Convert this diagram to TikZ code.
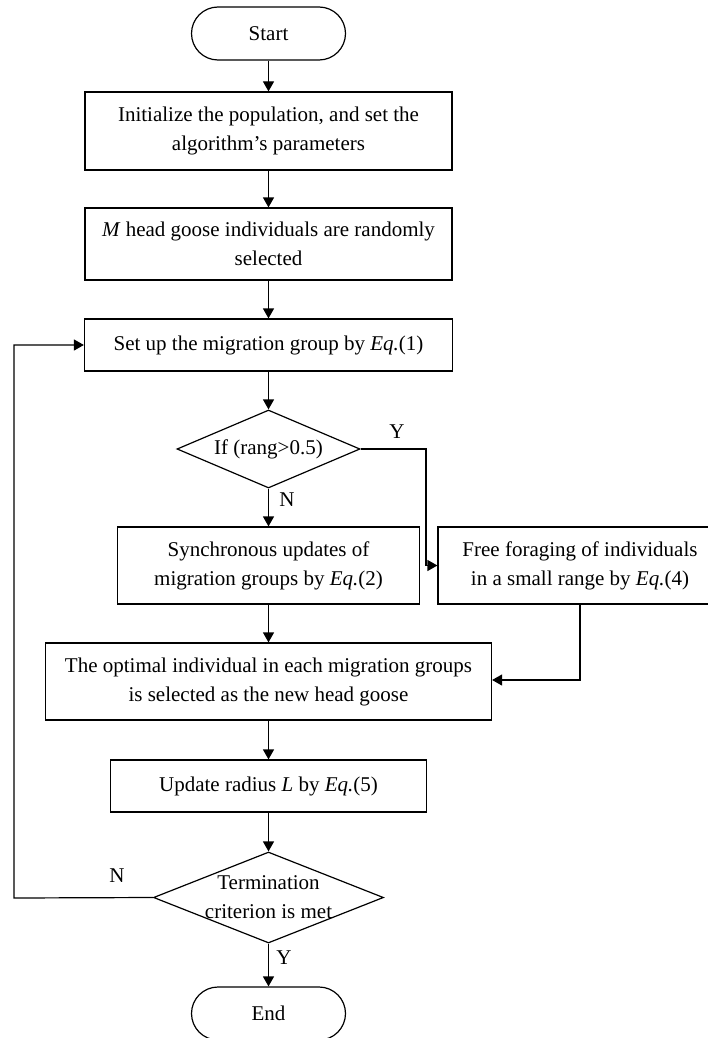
\documentclass[tikz,border=0pt]{standalone}
\usepackage{fontspec}
\setmainfont{Liberation Serif}
\usetikzlibrary{shapes.geometric,arrows.meta}
\begin{document}
\begin{tikzpicture}[x=1pt,y=-1pt,
  font=\fontsize{21}{29}\selectfont,
  box/.style={draw,line width=1.2pt,align=center,inner sep=0pt},
  term/.style={draw,line width=1.2pt,rounded corners=26.5pt,minimum width=154pt,minimum height=53pt,inner sep=0pt},
  dec/.style={draw,line width=1.2pt,diamond,inner sep=0pt},
  flow/.style={line width=1.2pt,-{Triangle[length=10pt,width=11pt]}},
  link/.style={line width=1.2pt},
  lab/.style={inner sep=0pt}]
\useasboundingbox (0,0) rectangle (707,1038);
\node[term] (start) at (268.5,33.5) {Start};
\node[box,minimum width=367pt,minimum height=78pt] (init) at (268.5,131) {Initialize the population, and set the\\algorithm’s parameters};
\node[box,minimum width=367pt,minimum height=72pt] (mh) at (268.5,244) {\textit{M} head goose individuals are randomly\\selected};
\node[box,minimum width=368pt,minimum height=52pt] (setup) at (268.5,345) {Set up the migration group by \textit{Eq.}(1)};
\node[dec,minimum width=183pt,minimum height=78pt,label={center:If (rang>0.5)}] (d1) at (268.5,449) {};
\node[box,minimum width=302pt,minimum height=77pt] (sync) at (268.5,565.5) {Synchronous updates of\\migration groups by \textit{Eq.}(2)};
\node[box,minimum width=284pt,minimum height=77pt] (free) at (580,565.5) {Free foraging of individuals\\in a small range by \textit{Eq.}(4)};
\node[box,minimum width=446pt,minimum height=77pt] (opt) at (268.5,681.5) {The optimal individual in each migration groups\\is selected as the new head goose};
\node[box,minimum width=316pt,minimum height=52pt] (upd) at (268.5,786) {Update radius \textit{L} by \textit{Eq.}(5)};
\node[dec,minimum width=230pt,minimum height=91pt,label={[align=center]center:Termination\\criterion is met}] (d2) at (268.5,897.5) {};
\node[term] (end) at (268.5,1013.5) {End};

\node[lab] (y1) at (397,432) {Y};
\node[lab] (n1) at (287,500) {N};
\node[lab] (n2) at (117,876) {N};
\node[lab] (y2) at (284,958) {Y};

\coordinate (yc) at (426,449);
\coordinate (lp) at (14,898);

\draw[flow] (start) -- (init);
\draw[flow] (init) -- (mh);
\draw[flow] (mh) -- (setup);
\draw[flow] (setup) -- (d1.north);
\draw[flow] (d1.south) -- (sync);
\draw[flow] (sync) -- (opt);
\draw[flow] (opt) -- (upd);
\draw[flow] (upd) -- (d2.north);
\draw[flow] (d2.south) -- (end);
\draw[flow] (d1.east) -- (yc) |- (free.west);
\draw[flow] (free.south) |- ([yshift=1.5pt]opt.east);
\draw[flow] (d2.west) -- (lp) |- (setup.west);
\end{tikzpicture}
\end{document}
